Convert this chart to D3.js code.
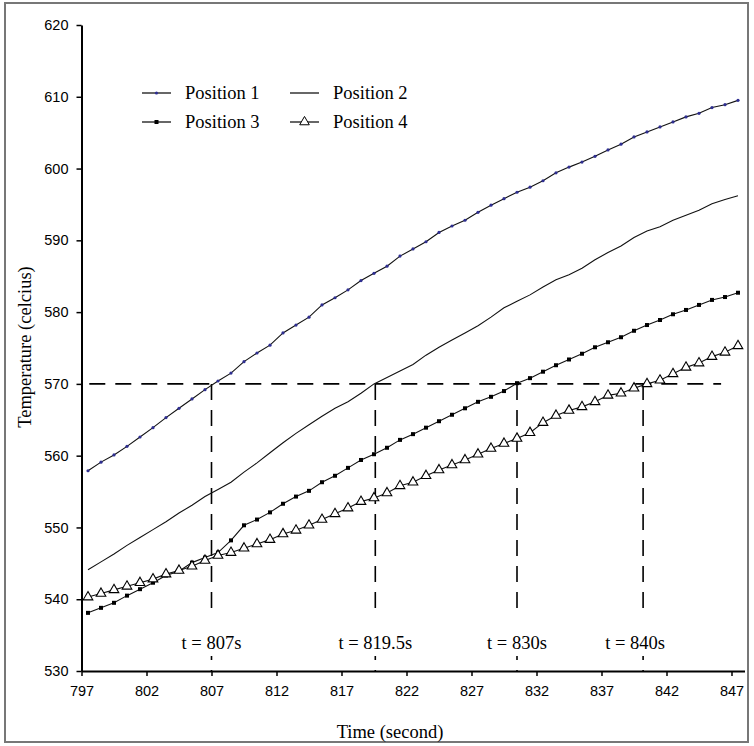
<!DOCTYPE html>
<html><head><meta charset="utf-8">
<script src="https://cdn.jsdelivr.net/npm/d3@7/dist/d3.min.js"></script>
<style>body{margin:0;background:#fff}</style></head>
<body>
<svg id="c" width="754" height="746"></svg>
<script>
const times=[797.5,798.5,799.5,800.5,801.5,802.5,803.5,804.5,805.5,806.5,807.5,808.5,809.5,810.5,811.5,812.5,813.5,814.5,815.5,816.5,817.5,818.5,819.5,820.5,821.5,822.5,823.5,824.5,825.5,826.5,827.5,828.5,829.5,830.5,831.5,832.5,833.5,834.5,835.5,836.5,837.5,838.5,839.5,840.5,841.5,842.5,843.5,844.5,845.5,846.5,847.5];
const position1=[557.9,559.1,560.1,561.3,562.6,563.9,565.3,566.6,567.9,569.2,570.4,571.5,573.1,574.3,575.4,577.1,578.2,579.3,581.0,582.0,583.1,584.4,585.4,586.4,587.8,588.8,589.8,591.1,592.0,592.8,593.9,594.9,595.8,596.7,597.4,598.3,599.4,600.2,600.9,601.7,602.6,603.4,604.4,605.1,605.8,606.5,607.2,607.7,608.5,608.9,609.5];
const position2=[544.1,545.2,546.3,547.5,548.6,549.7,550.8,552.0,553.1,554.3,555.3,556.3,557.7,559.0,560.4,561.8,563.1,564.3,565.5,566.6,567.5,568.7,570.0,570.9,571.8,572.7,574.0,575.1,576.1,577.1,578.1,579.3,580.6,581.5,582.4,583.5,584.5,585.2,586.1,587.3,588.3,589.2,590.4,591.3,591.9,592.8,593.5,594.2,595.1,595.7,596.2];
const position3=[538.1,538.8,539.5,540.5,541.4,542.3,543.3,543.9,545.1,545.8,546.5,548.2,550.3,551.1,552.1,553.3,554.3,555.1,556.3,557.2,558.3,559.4,560.2,561.1,562.2,563.0,563.9,564.8,565.7,566.6,567.5,568.2,569.0,570.1,570.8,571.7,572.6,573.4,574.2,575.1,575.8,576.5,577.4,578.2,578.9,579.7,580.3,581.0,581.7,582.1,582.7];
const position4=[540.3,540.8,541.3,541.8,542.3,542.8,543.5,544.0,544.6,545.4,546.1,546.5,547.1,547.7,548.3,549.1,549.6,550.3,551.1,551.9,552.7,553.6,554.1,554.8,555.8,556.3,557.2,558.0,558.7,559.4,560.2,561.0,561.7,562.4,563.2,564.6,565.6,566.3,566.8,567.5,568.4,568.7,569.4,570.0,570.5,571.4,572.3,572.9,573.8,574.4,575.3];
const seriesNames=["Position 1","Position 2","Position 3","Position 4"];
const xTicks=[797,802,807,812,817,822,827,832,837,842,847];
const yTicks=[530,540,550,560,570,580,590,600,610,620];
const threshold=570;
const markTimes=[807,819.6,830.5,840.2];
const markLabels=["t = 807s","t = 819.5s","t = 830s","t = 840s"];

const svg=d3.select('#c');
svg.append('rect').attr('x',5).attr('y',3).attr('width',743).attr('height',739)
  .attr('fill','#fff').attr('stroke','#777').attr('stroke-width',2);

const x=d3.scaleLinear().domain([797,848]).range([81.5,744.5]);
const y=d3.scaleLinear().domain([530,620]).range([671,25]);

// annotation lines
const ann=svg.append('g');
ann.append('line').attr('x1',x(797.6)).attr('x2',x(846.2)).attr('y1',y(threshold)).attr('y2',y(threshold))
  .attr('stroke','#000').attr('stroke-width',1.6).attr('stroke-dasharray','16,10');
markTimes.forEach((t,i)=>{
  ann.append('line').attr('x1',x(t)).attr('x2',x(t)).attr('y1',y(threshold)).attr('y2',y(530))
    .attr('stroke','#000').attr('stroke-width',1.6).attr('stroke-dasharray','16,10');
});
const labOff=[0,0,0,-8];
markTimes.forEach((t,i)=>{
  const cx=x(t)+labOff[i];
  const txt=ann.append('text').attr('x',cx).attr('y',649).attr('text-anchor','middle')
    .attr('font-family','Liberation Serif').attr('font-size',18.5).text(markLabels[i]);
  const bb=txt.node().getBBox();
  ann.insert('rect','text').attr('x',bb.x-3).attr('y',616).attr('width',bb.width+6).attr('height',40).attr('fill','#fff');
});

// series
const data=[position1,position2,position3,position4];
const line=d3.line().x((d,i)=>x(times[i])).y(d=>y(d));
const gS=svg.append('g');
data.forEach((s,k)=>{
  gS.append('path').datum(s).attr('d',line).attr('fill','none')
    .attr('stroke','#111').attr('stroke-width',1.1);
});
gS.selectAll('.m1').data(position1).enter().append('circle')
  .attr('cx',(d,i)=>x(times[i])).attr('cy',d=>y(d)).attr('r',1.6).attr('fill','#2e2e90');
gS.selectAll('.m3').data(position3).enter().append('rect')
  .attr('x',(d,i)=>x(times[i])-2).attr('y',d=>y(d)-2).attr('width',4).attr('height',4).attr('fill','#000');
const tri=d3.symbol(d3.symbolTriangle,40);
gS.selectAll('.m4').data(position4).enter().append('path')
  .attr('d',tri).attr('transform',(d,i)=>`translate(${x(times[i])},${y(d)})`)
  .attr('fill','#fff').attr('stroke','#000').attr('stroke-width',1.1);

// axes
const ax=d3.axisBottom(x).tickValues(xTicks).tickSize(5).tickSizeOuter(0).tickPadding(10).tickFormat(d3.format('d'));
const gx=svg.append('g').attr('transform','translate(0,671)').call(ax);
const ay=d3.axisLeft(y).tickValues(yTicks).tickSize(5).tickSizeOuter(0).tickPadding(8).tickFormat(d3.format('d'));
const gy=svg.append('g').attr('transform',`translate(${x(797)},0)`).call(ay);
[gx,gy].forEach(g=>{
  g.select('.domain').attr('stroke','#000').attr('stroke-width',2);
  g.selectAll('.tick line').attr('stroke','#000').attr('stroke-width',1.5);
  g.selectAll('.tick text').attr('font-family','Liberation Sans').attr('font-size',14.5).attr('fill','#000');
});

svg.append('text').attr('x',390).attr('y',738).attr('text-anchor','middle')
  .attr('font-family','Liberation Serif').attr('font-size',18.5).text('Time (second)');
svg.append('text').attr('transform','translate(31,347) rotate(-90)').attr('text-anchor','middle')
  .attr('font-family','Liberation Serif').attr('font-size',18.5).text('Temperature (celcius)');

// legend
const leg=svg.append('g');
const legPos=[[142,93],[290,93],[142,122],[290,122]];
seriesNames.forEach((n,k)=>{
  const [lx,ly]=legPos[k];
  leg.append('line').attr('x1',lx).attr('x2',lx+29).attr('y1',ly).attr('y2',ly).attr('stroke','#000').attr('stroke-width',1.2);
  const mx=lx+14.5;
  if(k===0) leg.append('circle').attr('cx',mx).attr('cy',ly).attr('r',1.6).attr('fill','#2e2e90');
  if(k===2) leg.append('rect').attr('x',mx-2).attr('y',ly-2).attr('width',4).attr('height',4).attr('fill','#000');
  if(k===3) leg.append('path').attr('d',tri).attr('transform',`translate(${mx},${ly})`).attr('fill','#fff').attr('stroke','#000');
  leg.append('text').attr('x',lx+43).attr('y',ly+6).attr('font-family','Liberation Serif').attr('font-size',18.5).text(n);
});
</script>
</body></html>
